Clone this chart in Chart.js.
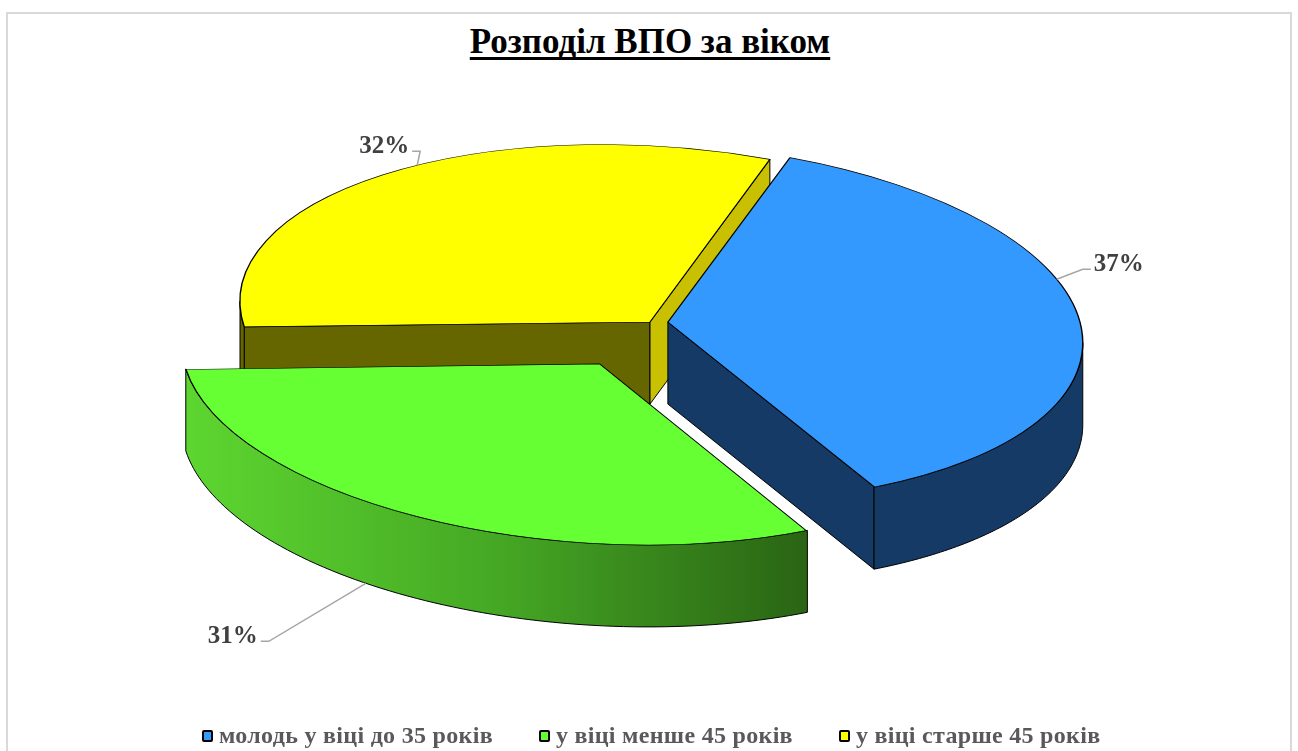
<!DOCTYPE html>
<html lang="uk">
<head>
  <meta charset="UTF-8">
  <title>Розподіл ВПО за віком</title>
  <script src="https://cdn.jsdelivr.net/npm/chart.js"></script>
  <style>
    html, body { margin: 0; padding: 0; background: #fff; overflow: hidden; }
    body { width: 1298px; height: 751px; position: relative; font-family: 'Liberation Serif', 'Times New Roman', serif; }
    #frame { position: absolute; left: 6px; top: 12px; width: 1286px; height: 800px; box-sizing: border-box; border: 2px solid #d9d9d9; }
    #wrap { position: absolute; left: 0; top: 0; width: 1298px; height: 751px; }
    #title {
      position: absolute; left: 0; top: 24px; width: 1300px; text-align: center;
      font: bold 35px 'Liberation Serif', serif; line-height: 1; color: #000;
      text-decoration: underline; text-decoration-thickness: 3px; text-underline-offset: 4px;
      text-decoration-skip-ink: none;
    }
    #legend {
      position: absolute; left: 202px; top: 723px; display: flex; gap: 46px;
      font: bold 24px 'Liberation Serif', serif; color: #595959; line-height: 24px; letter-spacing: 0.3px;
    }
    #legend .item { display: flex; align-items: center; }
    #legend .box { width: 11px; height: 12px; box-sizing: border-box; border: 2px solid #000; border-radius: 2px; margin-right: 6px; margin-top: 2px; }
  </style>
</head>
<body>
  <div id="frame"></div>
  <div id="title">Розподіл ВПО за віком</div>
  <div id="wrap"><canvas id="chart"></canvas></div>
  <div id="legend"></div>

  <script>
    // data
    const categories = ['молодь у віці до 35 років', 'у віці менше 45 років', 'у віці старше 45 років'];
    const shares = [37, 31, 32];

    // styles
    const topColors = ['#3399FF', '#66FF33', '#FFFF00'];
    const explode = [72, 460, 0];
    const sideStyles = [
      { wall: '#163A66', startFace: '#163A66', endFace: '#163A66' },
      { wall: ['#5DD630', '#45A824', '#2A6414'], startFace: '#2A6414', endFace: '#3F8F1F' },
      { wall: '#666600', startFace: '#666600', endFace: '#C8C000' }
    ];
    // label leader: shift of the anchor angle (deg) and elbow offset (px)
    const anchorShift = [-14, 8, 6];
    const leaderVec = [[26, -10], [-97, 58], [3, -14]];

    const TILT = 0.43;   // vertical squash of the pie plane
    const SKEW = 0.05;   // left side slightly higher, as in the original view
    const DEPTH = 82;

    function sliceGeom(chart) {
      const meta = chart.getDatasetMeta(0);
      return meta.data.map((a, i) => {
        const p = a.getProps(['x', 'y', 'startAngle', 'endAngle', 'outerRadius', 'circumference']);
        const off = (a.options.offset || 0) / 4;
        const mid = (p.startAngle + p.endAngle) / 2;
        const fix = 1 - Math.sin(Math.min(Math.PI, p.circumference || 0));
        const r = p.outerRadius + off * fix;
        const cx = p.x + Math.cos(mid) * off;
        const cy = p.y + Math.sin(mid) * off;
        const proj = (x, y, d) => [x, p.y + TILT * (y - p.y) + SKEW * (x - p.x) + d];
        const pt = (t, d = 0) => proj(cx + r * Math.cos(t), cy + r * Math.sin(t), d);
        const apex = (d = 0) => proj(cx, cy, d);
        return { i, s: p.startAngle, e: p.endAngle, mid, pt, apex, baseX: p.x, baseY: p.y };
      });
    }

    function frontRanges(s, e) {
      const out = [];
      for (let n = -1; n <= 1; n++) {
        const a = Math.max(s, 2 * Math.PI * n);
        const b = Math.min(e, 2 * Math.PI * n + Math.PI);
        if (b > a) out.push([a, b]);
      }
      return out;
    }

    function radialFace(ctx, g, t, color) {
      const a0 = g.apex(), p0 = g.pt(t), p1 = g.pt(t, DEPTH), a1 = g.apex(DEPTH);
      ctx.beginPath();
      ctx.moveTo(a0[0], a0[1]);
      ctx.lineTo(p0[0], p0[1]);
      ctx.lineTo(p1[0], p1[1]);
      ctx.lineTo(a1[0], a1[1]);
      ctx.closePath();
      ctx.fillStyle = color;
      ctx.fill();
      ctx.stroke();
    }

    function outerWall(ctx, g, a, b, style) {
      const steps = 80;
      ctx.beginPath();
      for (let j = 0; j <= steps; j++) {
        const q = g.pt(a + (b - a) * j / steps);
        j ? ctx.lineTo(q[0], q[1]) : ctx.moveTo(q[0], q[1]);
      }
      for (let j = steps; j >= 0; j--) {
        const q = g.pt(a + (b - a) * j / steps, DEPTH);
        ctx.lineTo(q[0], q[1]);
      }
      ctx.closePath();
      if (Array.isArray(style)) {
        const xl = g.pt(b)[0], xr = g.pt(a)[0];
        const grad = ctx.createLinearGradient(Math.min(xl, xr), 0, Math.max(xl, xr), 0);
        style.forEach((c, k) => grad.addColorStop(k / (style.length - 1), c));
        ctx.fillStyle = grad;
      } else {
        ctx.fillStyle = style;
      }
      ctx.fill();
      ctx.stroke();
    }

    const pie3d = {
      id: 'pie3d',
      beforeDatasetsDraw(chart) {
        const ctx = chart.ctx;
        const geoms = sliceGeom(chart).sort((u, v) => Math.sin(u.mid) - Math.sin(v.mid));
        ctx.save();
        ctx.strokeStyle = '#000';
        ctx.lineWidth = 1;
        ctx.lineJoin = 'round';
        geoms.forEach(g => {
          const st = sideStyles[g.i];
          if (Math.cos(g.s) < 0) radialFace(ctx, g, g.s, st.startFace);
          if (Math.cos(g.e) > 0) radialFace(ctx, g, g.e, st.endFace);
          frontRanges(g.s, g.e).forEach(([a, b]) => outerWall(ctx, g, a, b, st.wall));
        });
        ctx.restore();

        // tilt the tops drawn by the library
        const cx = geoms.length ? geoms[0].baseX : 0;
        const cy = geoms.length ? geoms[0].baseY : 0;
        ctx.save();
        ctx.transform(1, SKEW, 0, TILT, 0, cy - TILT * cy - SKEW * cx);
      },
      afterDatasetsDraw(chart) {
        const ctx = chart.ctx;
        ctx.restore();

        // percentage labels with leader lines
        const geoms = sliceGeom(chart);
        const values = chart.data.datasets[0].data;
        ctx.save();
        ctx.font = "bold 25px 'Liberation Serif', serif";
        ctx.fillStyle = '#404040';
        ctx.strokeStyle = '#a6a6a6';
        ctx.lineWidth = 1.5;
        ctx.textBaseline = 'middle';
        geoms.forEach(g => {
          const t = g.mid + anchorShift[g.i] * Math.PI / 180;
          const front = Math.sin(t) > 0.3;
          const anchor = g.pt(t, front ? DEPTH : 0);
          const [dx, dy] = leaderVec[g.i];
          const elbow = [anchor[0] + dx, anchor[1] + dy];
          const dir = Math.cos(g.mid) < 0 ? -1 : 1;
          const end = [elbow[0] + dir * 8, elbow[1]];
          ctx.beginPath();
          ctx.moveTo(anchor[0], anchor[1]);
          ctx.lineTo(elbow[0], elbow[1]);
          ctx.lineTo(end[0], end[1]);
          ctx.stroke();
          ctx.textAlign = dir < 0 ? 'right' : 'left';
          ctx.fillText(values[g.i] + '%', end[0] + dir * 3, end[1] - 5);
        });
        ctx.restore();
      }
    };

    const chart = new Chart(document.getElementById('chart'), {
      type: 'pie',
      data: {
        labels: categories,
        datasets: [{
          data: shares,
          backgroundColor: topColors,
          borderColor: '#000',
          borderWidth: 1.4,
          offset: explode,
          hoverOffset: 0,
          clip: false
        }]
      },
      options: {
        responsive: true,
        maintainAspectRatio: false,
        animation: false,
        events: [],
        rotation: 17,
        radius: 410,
        layout: { padding: { left: 2, right: 0, top: 0, bottom: 107 } },
        plugins: {
          legend: { display: false },
          title: { display: false },
          tooltip: { enabled: false }
        }
      },
      plugins: [pie3d]
    });

    // legend built from the chart's own data
    const legendEl = document.getElementById('legend');
    chart.data.labels.forEach((label, i) => {
      const item = document.createElement('div');
      item.className = 'item';
      const box = document.createElement('span');
      box.className = 'box';
      box.style.background = chart.data.datasets[0].backgroundColor[i];
      const txt = document.createElement('span');
      txt.textContent = label;
      item.appendChild(box);
      item.appendChild(txt);
      legendEl.appendChild(item);
    });
  </script>
</body>
</html>
